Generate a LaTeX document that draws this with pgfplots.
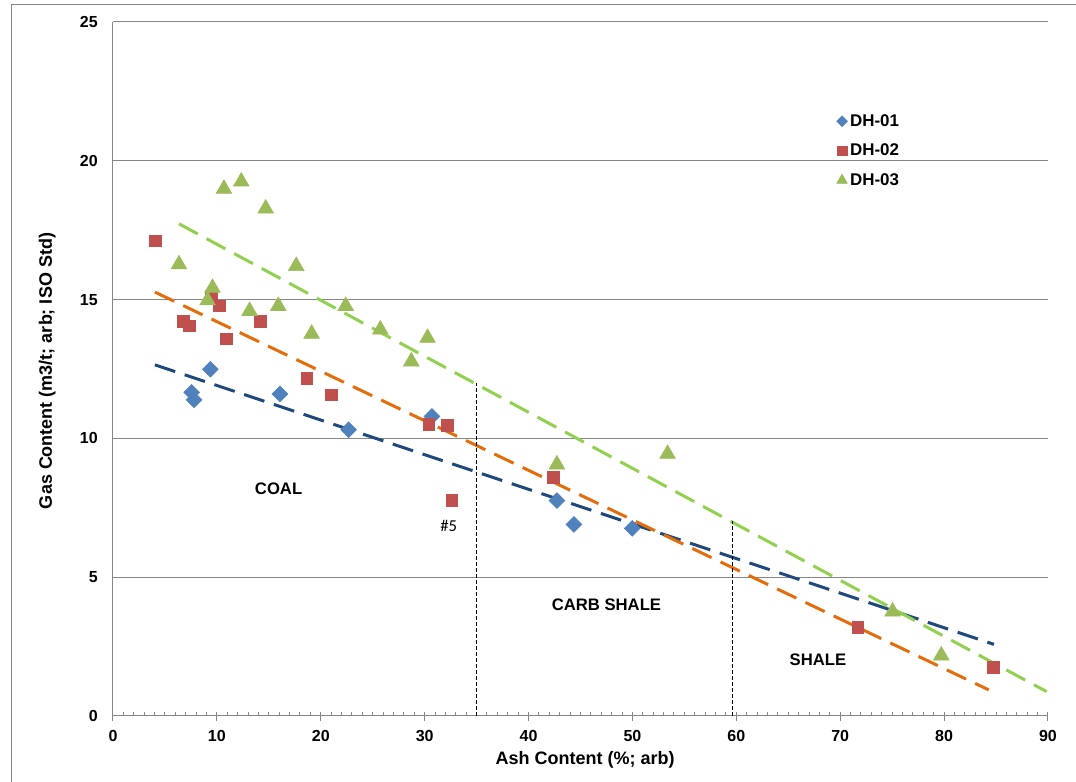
\documentclass[border=0pt]{standalone}
\usepackage{fontspec}
\setmainfont{Liberation Sans}
\newfontfamily\calibri{Carlito}
\usepackage{pgfplots}
\usepackage{pgfplotstable}
\pgfplotsset{compat=1.18}
\definecolor{gridgray}{RGB}{134,134,134}
\definecolor{c1}{RGB}{79,129,189}
\definecolor{c2}{RGB}{192,80,77}
\definecolor{c3}{RGB}{155,187,89}
\definecolor{t1}{RGB}{31,73,125}
\definecolor{t2}{RGB}{228,108,10}
\definecolor{t3}{RGB}{146,208,80}
\pgfplotsset{legscale/.style={legend image code/.code={\draw[##1, every mark/.append style={scale=#1}] plot coordinates {(0pt,0pt)};}}}

\pgfplotstableread{
x y
7.57 11.66
7.80 11.39
9.37 12.49
16.07 11.60
22.68 10.31
30.70 10.79
42.73 7.76
44.37 6.90
49.98 6.76
}\dhone

\pgfplotstableread{
x y
4.04 17.12
6.77 14.23
7.35 14.06
9.43 15.11
10.20 14.78
10.88 13.59
14.20 14.21
18.64 12.16
20.98 11.57
30.40 10.52
32.15 10.46
32.60 7.76
42.35 8.59
71.70 3.19
84.70 1.75
}\dhtwo

\pgfplotstableread{
x y
10.68 18.99
12.35 19.25
14.70 18.28
6.35 16.27
17.64 16.21
9.58 15.42
9.10 14.97
13.15 14.59
15.91 14.77
22.40 14.77
19.12 13.77
25.73 13.92
30.28 13.62
28.71 12.77
42.73 9.06
53.38 9.44
75.04 3.76
79.73 2.18
}\dhthree

\begin{document}
\begin{tikzpicture}
\useasboundingbox (0,0) rectangle (807pt,586.5pt);
\draw[gridgray, line width=0.75pt] (8.25pt,-2pt) -- (8.25pt,582.75pt) -- (810pt,582.75pt);
\begin{axis}[
  at={(84.75pt,49.5pt)}, anchor=south west,
  scale only axis, width=701.25pt, height=520.5pt,
  xmin=0, xmax=90, ymin=0, ymax=25,
  xtick={0,10,...,90}, ytick={0,5,...,25},
  minor x tick num=9,
  axis x line*=bottom, axis y line*=left,
  axis line style={-, gridgray, line width=0.75pt},
  tick align=inside,
  major tick length=6.3pt, minor tick length=2.8pt,
  every major tick/.append style={yshift=-3.5pt},
  tick style={gridgray, line width=0.75pt},
  ytick style={draw=none},
  ymajorgrids, major grid style={gridgray, line width=0.75pt},
  /pgf/number format/assume math mode=true,
  ticklabel style={font=\fontsize{12}{14}\selectfont\bfseries},
  xticklabel style={anchor=north, inner sep=0pt, yshift=-10.5pt},
  yticklabel style={anchor=east, inner sep=0pt, xshift=-11.25pt},
  xlabel={Ash Content (\%; arb)},
  ylabel={Gas Content (m3/t; arb; ISO Std)},
  label style={font=\fontsize{13.5}{16}\selectfont\bfseries},
  xlabel style={at={([xshift=3.4pt,yshift=-36.75pt]axis description cs:0.5,0)}, anchor=base},
  ylabel style={at={([xshift=-45.75pt,yshift=-1.5pt]axis description cs:0,0.5)}, anchor=base},
  legend style={at={(axis cs:69.63,20.36)}, anchor=west, draw=none, fill=none,
    inner sep=0pt, row sep=7.8pt, column sep=0pt,
    font=\fontsize{12.7}{15}\selectfont\bfseries, nodes={inner sep=2pt}},
  legend cell align=left,
  clip=false,
]
\addplot[only marks, mark=square*, mark size=4.2pt, color=c1, mark options={rotate=45, fill=c1, draw=c1}, legscale=0.68]
  table[x=x,y=y] {\dhone};
\addlegendentry{DH-01}
\addplot[only marks, mark=square*, mark size=4.4pt, color=c2, mark options={fill=c2, draw=c2}, legscale=0.84]
  table[x=x,y=y] {\dhtwo};
\addlegendentry{DH-02}
\addplot[only marks, mark=triangle*, mark size=6.8pt, color=c3, mark options={fill=c3, draw=c3}, legscale=0.68]
  table[x=x,y=y] {\dhthree};
\addlegendentry{DH-03}
\addplot[forget plot, t1, line width=2.25pt, dash pattern=on 16pt off 7.5pt] coordinates {(4.04,12.65) (84.8,2.58)};
\addplot[forget plot, t2, line width=2.25pt, dash pattern=on 16pt off 7.5pt] coordinates {(4.04,15.27) (84.3,0.94)};
\addplot[forget plot, t3, line width=2.25pt, dash pattern=on 16pt off 7.5pt] coordinates {(6.35,17.73) (89.86,0.88)};
\addplot[forget plot, black, line width=0.75pt, dash pattern=on 3pt off 1.5pt] coordinates {(35,0) (35,12.0)};
\addplot[forget plot, black, line width=0.75pt, dash pattern=on 3pt off 1.5pt] coordinates {(59.6,0) (59.6,7.04)};
\node[font=\fontsize{12.5}{15}\selectfont\bfseries] at (axis cs:15.94,8.20) {COAL};
\node[font=\fontsize{12.5}{15}\selectfont\calibri] at (axis cs:32.31,6.85) {\#5};
\node[font=\fontsize{12.5}{15}\selectfont\bfseries] at (axis cs:47.5,4.0) {CARB SHALE};
\node[font=\fontsize{12.5}{15}\selectfont\bfseries] at (axis cs:67.85,2.02) {SHALE};
\end{axis}
\end{tikzpicture}
\end{document}
